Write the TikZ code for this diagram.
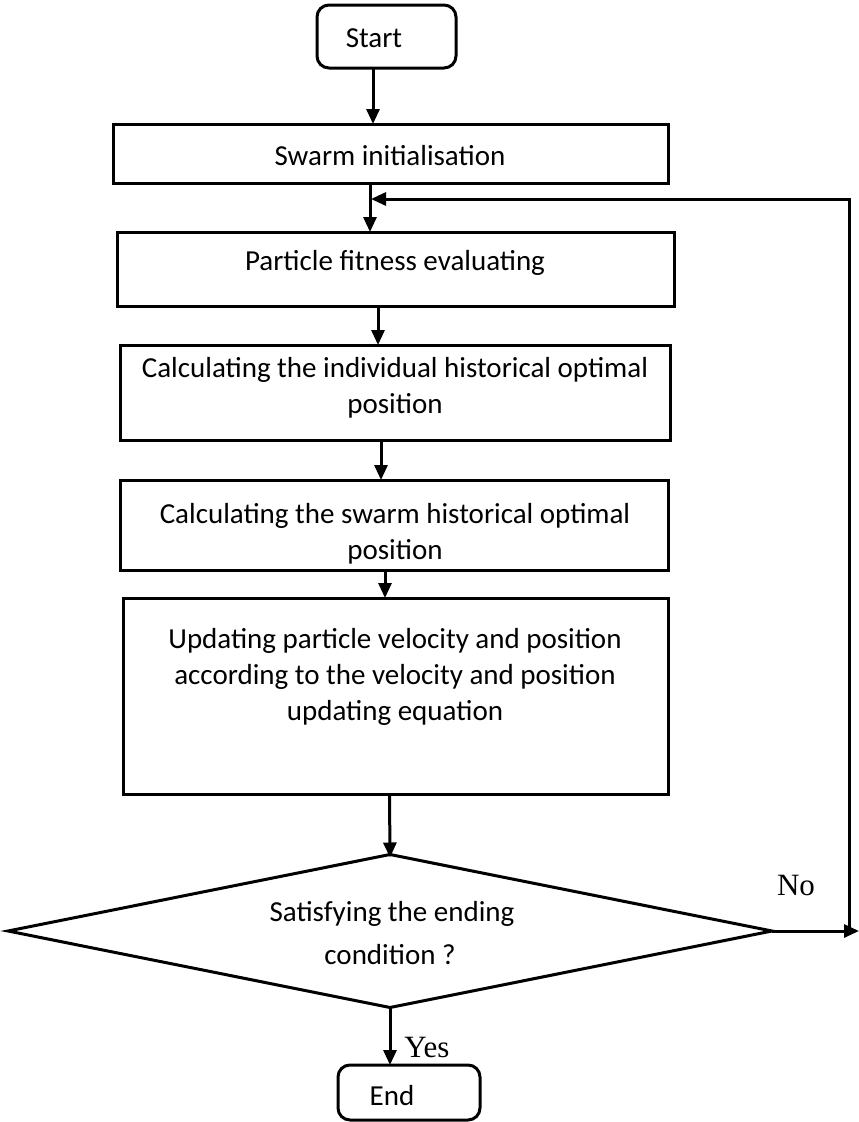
\documentclass[tikz,border=0pt]{standalone}
\usepackage{fontspec}
\setmainfont{Carlito}
\newfontfamily\tnr{Liberation Serif}
\usetikzlibrary{arrows.meta,shapes.geometric}

\begin{document}
\begin{tikzpicture}[x=1pt,y=-1pt,
  line width=3pt,
  every node/.style={inner sep=0pt,outer sep=0pt},
  box/.style={draw,rectangle,minimum width=#1},
  terminal/.style={draw,rectangle,rounded corners=12pt},
  decision/.style={draw,diamond},
  txt/.style={align=center,font=\fontsize{29}{36}\selectfont},
  yesno/.style={font=\tnr\fontsize{31}{36}\selectfont},
  arr/.style={-{Triangle[length=15pt,width=13pt]}}]
\path[use as bounding box] (0,0) rectangle (859,1122);

% process boxes
\node[terminal,minimum width=139pt,minimum height=63pt] (start) at (386.5,36.5) {};
\node[box=555pt,minimum height=59pt] (init) at (390.5,153.5) {};
\node[box=557pt,minimum height=74pt] (fit) at (395.5,269) {};
\node[box=550pt,minimum height=95pt] (pbest) at (395,392.5) {};
\node[box=548pt,minimum height=90pt] (gbest) at (394,525) {};
\node[box=545pt,minimum height=196pt] (update) at (395.5,696) {};
\node[decision,minimum width=764pt,minimum height=153pt] (cond) at (390,931) {};
\node[terminal,minimum width=142pt,minimum height=55pt] (stop) at (409,1092.5) {};

% box texts
\node[txt] (tstart) at (374,38) {Start};
\node[txt] (tinit) at (390,156) {Swarm initialisation};
\node[txt] (tfit) at (395,263) {Particle fitness evaluating};
\node[txt] (tpbest) at (395,388) {Calculating the individual historical optimal\\position};
\node[txt] (tgbest) at (395,534) {Calculating the swarm historical optimal\\position};
\node[txt] (tupdate) at (395,677) {Updating particle velocity and position\\according to the velocity and position\\updating equation};
\node[txt] (tcond1) at (392,914) {Satisfying the ending};
\node[txt] (tcond2) at (390,955) {condition ?};
\node[txt] (tstop) at (392,1096) {End};

% branch labels
\node[yesno] (no) at (796,885) {No};
\node[yesno] (yes) at (427,1047) {Yes};

% x positions of the vertical connectors
\coordinate (xa) at (373,0);
\coordinate (xb) at (370,0);
\coordinate (xc) at (378,0);
\coordinate (xd) at (381,0);
\coordinate (xe) at (385,0);
\coordinate (xf) at (389.5,0);

% main flow
\draw[arr] (xa |- start.south) -- (xa |- init.north);
\draw[arr] (xb |- init.south) -- (xb |- fit.north);
\draw[arr] (xc |- fit.south) -- (xc |- pbest.north);
\draw[arr] (xd |- pbest.south) -- (xd |- gbest.north);
\draw[arr] (xe |- gbest.south) -- (xe |- update.north);
\draw[arr] (xf |- update.south) -- ([yshift=-3pt]cond.north);
\draw[arr] (cond.south) -- (cond.south |- stop.north);

% loop back when the condition fails
\coordinate (noend) at (859,930);
\coordinate (corner) at (849,931);
\coordinate (top) at (849,199);
\coordinate (back) at (371,199);
\draw[arr] (cond.east) -- (cond.east -| noend);
\draw[arr] (corner) -- (top) -- (back);
\end{tikzpicture}
\end{document}
